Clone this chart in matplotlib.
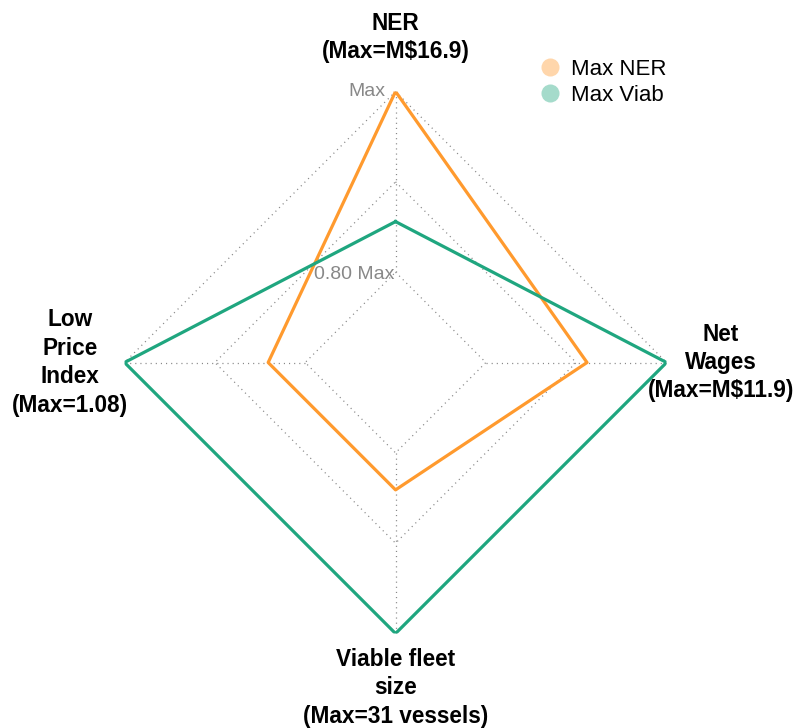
import numpy as np
import matplotlib.pyplot as plt
from matplotlib.lines import Line2D

plt.rcParams['font.family'] = ['Liberation Sans', 'DejaVu Sans']

# Datos (fraccion del maximo de cada eje)
ejes = ['NER\n(Max=M$16.9)', 'Net\nWages\n(Max=M$11.9)',
        'Viable fleet\nsize\n(Max=31 vessels)', 'Low\nPrice\nIndex\n(Max=1.08)']
max_ner = [1.0, 0.912, 0.841, 0.841]
max_viab = [0.856, 1.0, 1.0, 1.0]
series = ['Max NER', 'Max Viab']
colores = ['#FF9A2E', '#1FA67F']
niveles = [0.8, 0.9, 1.0]
r_min = 0.7

fig = plt.figure(figsize=(7.96, 7.28), dpi=100)
ax = fig.add_axes([0.1564, 0.1298, 0.681, 0.7445], projection='polar')
ax.set_theta_offset(np.pi / 2)
ax.set_theta_direction(-1)
ax.set_ylim(r_min, 1.0)
ax.axis('off')

ang = np.linspace(0, 2 * np.pi, len(ejes), endpoint=False)
ang_c = np.append(ang, ang[0])

# Rejilla punteada en forma de rombo
for nv in niveles:
    ax.plot(ang_c, [nv] * len(ang_c), color='#888888', lw=0.9,
            dashes=(0.9, 3.2), zorder=1)
for a in ang:
    ax.plot([a, a], [niveles[0], niveles[-1]], color='#888888', lw=0.9,
            dashes=(0.9, 3.2), zorder=1)

# Series
for vals, col in zip([max_ner, max_viab], colores):
    ax.plot(ang_c, vals + vals[:1], color=col, lw=2.3, zorder=3)

# Etiquetas de los ejes
for a, txt in zip(ang, ejes):
    ax.text(a, 1.06, txt, ha='center', va='center', fontsize=16.3,
            fontweight='bold', multialignment='center', linespacing=1.3,
            clip_on=False)

# Etiquetas de la rejilla
ax.annotate('Max', xy=(0, 1.0), xytext=(-7, 0), textcoords='offset points',
            ha='right', va='center', fontsize=14, color='#888888')
ax.annotate('0.80 Max', xy=(0, 0.8), xytext=(-1, -2), textcoords='offset points',
            ha='right', va='center', fontsize=14, color='#888888')

# Leyenda
handles = [Line2D([], [], ls='', marker='o', markersize=13, color=c, alpha=0.4,
                  markeredgewidth=0) for c in colores]
fig.legend(handles, series, loc='upper left', bbox_to_anchor=(0.652, 0.947),
           frameon=False, fontsize=16, handlelength=1.0, handletextpad=0.45,
           labelspacing=0.25)

fig.savefig('out.png', dpi=100)
